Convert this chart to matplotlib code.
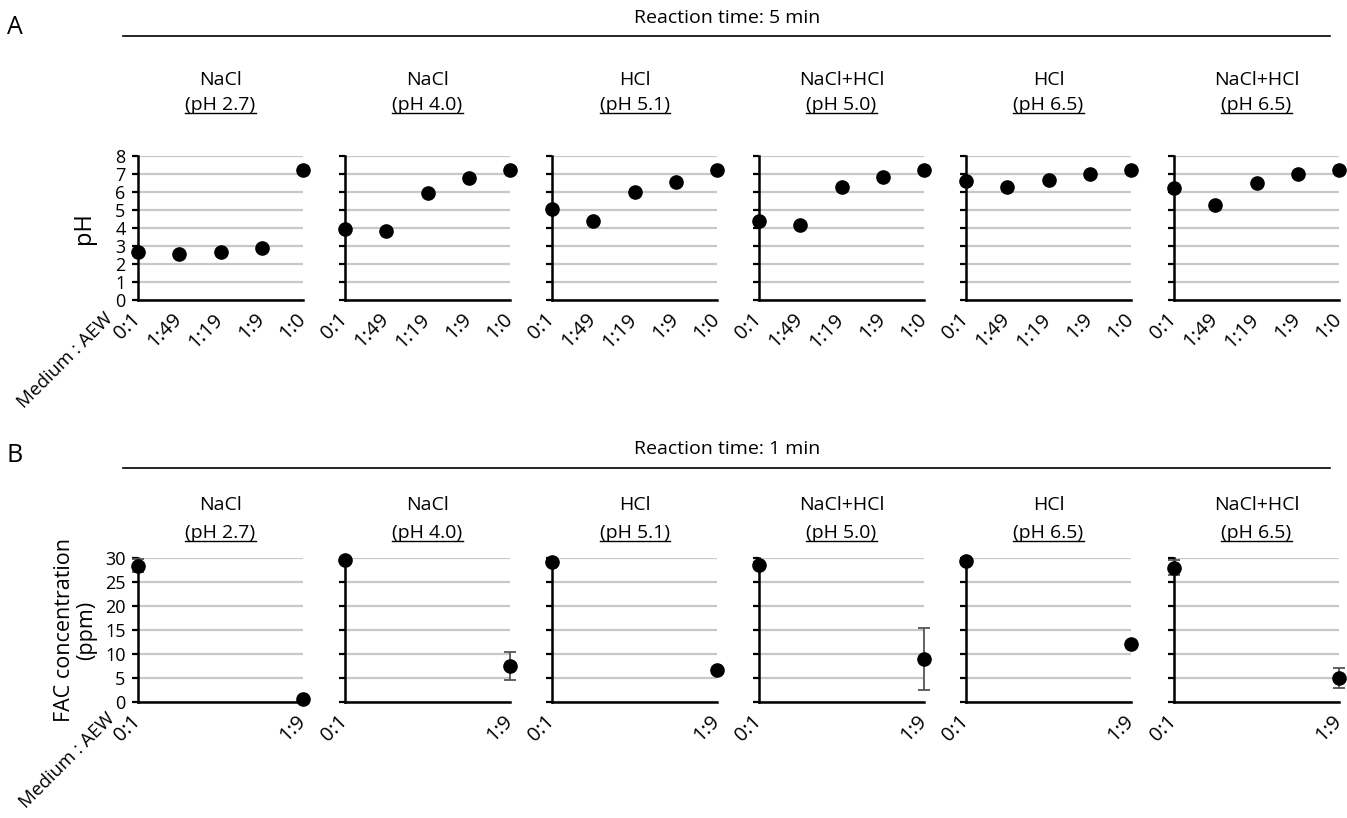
import numpy as np
import matplotlib.pyplot as plt
from matplotlib.lines import Line2D

plt.rcParams['font.family'] = ['Open Sans', 'DejaVu Sans']

# Panel headers
MEDIUMS = ['NaCl', 'NaCl', 'HCl', 'NaCl+HCl', 'HCl', 'NaCl+HCl']
MEDIUM_PH = ['(pH 2.7)', '(pH 4.0)', '(pH 5.1)', '(pH 5.0)', '(pH 6.5)', '(pH 6.5)']

# A: pH after 5 min
RATIOS_A = ['0:1', '1:49', '1:19', '1:9', '1:0']
PH_NACL_27 = [2.65, 2.55, 2.67, 2.87, 7.2]
PH_NACL_40 = [3.96, 3.85, 5.95, 6.8, 7.2]
PH_HCL_51 = [5.06, 4.39, 6.0, 6.53, 7.2]
PH_MIX_50 = [4.4, 4.15, 6.28, 6.85, 7.2]
PH_HCL_65 = [6.6, 6.3, 6.68, 7.0, 7.2]
PH_MIX_65 = [6.2, 5.3, 6.48, 7.0, 7.2]
PH_SERIES = [PH_NACL_27, PH_NACL_40, PH_HCL_51, PH_MIX_50, PH_HCL_65, PH_MIX_65]

# B: FAC after 1 min
RATIOS_B = ['0:1', '1:9']
FAC_MEAN = [[28.4, 0.7], [29.6, 7.5], [29.1, 6.7], [28.6, 9.0], [29.4, 12.0], [28.0, 5.0]]
FAC_ERR = [[1.3, 0.0], [0.0, 3.0], [0.0, 0.0], [0.6, 6.4], [0.0, 0.0], [1.6, 2.1]]

W, H = 1347, 818
fig = plt.figure(figsize=(W / 100, H / 100), dpi=100)

LEFTS = [138, 345, 552, 759, 966, 1174]
AX_W = 165
AX_H = 144
GRID_C = '#c8c8c8'
TICK_FS = 14.5
TITLE_FS = 14


def fx(x):
    return x / W


def fy(y):
    return 1 - y / H


def style_axes(ax, first):
    for s in ['top', 'right']:
        ax.spines[s].set_visible(False)
    for s in ['left', 'bottom']:
        ax.spines[s].set_linewidth(1.8)
        ax.spines[s].set_color('black')
        ax.spines[s].set_zorder(3)
    ax.yaxis.grid(True, color=GRID_C, linewidth=1.6)
    ax.set_axisbelow(True)
    ax.tick_params(axis='y', direction='out', length=4, width=1.6, labelsize=13, pad=5,
                   labelleft=first)
    ax.tick_params(axis='x', length=0, labelsize=TICK_FS, pad=12)
    for lab in ax.get_xticklabels():
        lab.set_rotation(45)
        lab.set_ha('right')
        lab.set_va('center')
        lab.set_rotation_mode('anchor')


titles = []


def add_titles(y_name, y_ph):
    for i in range(6):
        cx = LEFTS[i] + AX_W / 2
        fig.text(fx(cx), fy(y_name), MEDIUMS[i], ha='center', va='center', fontsize=TITLE_FS)
        t = fig.text(fx(cx), fy(y_ph), MEDIUM_PH[i], ha='center', va='center', fontsize=TITLE_FS)
        titles.append(t)


# ---- Panel A ----
top_a = 300
for i, vals in enumerate(PH_SERIES):
    ax = fig.add_axes([fx(LEFTS[i]), fy(top_a), AX_W / W, AX_H / H])
    x = np.arange(len(RATIOS_A))
    ax.plot(x, vals, 'o', color='black', markersize=9.5, clip_on=False, zorder=4)
    ax.set_xlim(0, len(RATIOS_A) - 1)
    ax.set_ylim(0, 8)
    ax.set_yticks(range(0, 9))
    ax.set_xticks(x)
    ax.set_xticklabels(RATIOS_A)
    style_axes(ax, i == 0)
    if i == 0:
        ax.set_ylabel('pH', fontsize=17, labelpad=14)

# ---- Panel B ----
top_b = 702
for i in range(6):
    ax = fig.add_axes([fx(LEFTS[i]), fy(top_b), AX_W / W, AX_H / H])
    x = np.arange(len(RATIOS_B))
    ax.errorbar(x, FAC_MEAN[i], yerr=FAC_ERR[i], fmt='o', color='black', markersize=9.5,
                ecolor='#555555', elinewidth=1.3, capsize=4, capthick=1.3, clip_on=False, zorder=4)
    ax.set_xlim(0, 1)
    ax.set_ylim(0, 30)
    ax.set_yticks(range(0, 31, 5))
    ax.set_xticks(x)
    ax.set_xticklabels(RATIOS_B)
    style_axes(ax, i == 0)
    if i == 0:
        ax.set_ylabel('FAC concentration\n(ppm)', fontsize=15.5, labelpad=6, linespacing=1.05)

# Headers
for letter, ly, head, hy, liney, ny, py in [
        ('A', 27, 'Reaction time: 5 min', 18, 36, 80, 105),
        ('B', 455, 'Reaction time: 1 min', 449, 468, 505, 533)]:
    fig.text(fx(15), fy(ly), letter, ha='center', va='center', fontsize=18)
    fig.text(fx(727), fy(hy), head, ha='center', va='center', fontsize=14)
    fig.add_artist(Line2D([fx(123), fx(1330)], [fy(liney), fy(liney)], color='black', linewidth=1.2))
    add_titles(ny, py)

# Row label for the ratio axis
fig.text(fx(110), fy(316), 'Medium : AEW', rotation=45, ha='right', va='center',
         rotation_mode='anchor', fontsize=13.5)
fig.text(fx(112), fy(716), 'Medium : AEW', rotation=45, ha='right', va='center',
         rotation_mode='anchor', fontsize=13.5)

# Underline the pH subtitles
fig.canvas.draw()
inv = fig.transFigure.inverted()
for t in titles:
    bb = t.get_window_extent()
    (x0, y0), (x1, _) = inv.transform([(bb.x0, bb.y0 + 1), (bb.x1, bb.y0 + 1)])
    fig.add_artist(Line2D([x0, x1], [y0, y0], color='black', linewidth=1.0))

fig.savefig('out.png', dpi=100)
